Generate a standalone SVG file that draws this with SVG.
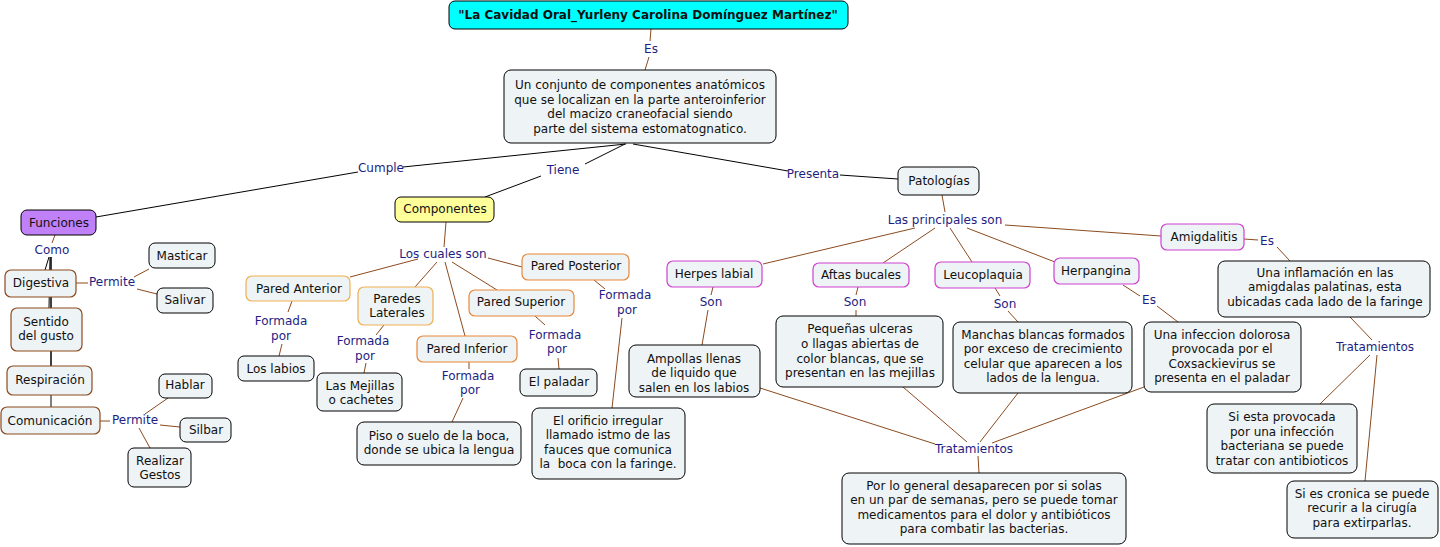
<svg xmlns="http://www.w3.org/2000/svg" width="1440" height="547" viewBox="0 0 1440 547">
<style>
.n{fill:#EEF3F5;stroke:#000;stroke-width:1}
.o{fill:#EEF3F5;stroke:#F0B050;stroke-width:1.2}
.o2{fill:#EEF3F5;stroke:#E8883A;stroke-width:1.2}
.m{fill:#EEF3F5;stroke:#D040D0;stroke-width:1.2}
.b{fill:#EEF3F5;stroke:#8B4A1E;stroke-width:1.2}
text{font-family:"DejaVu Sans",Verdana,sans-serif;font-size:12px;fill:#111;text-anchor:middle;dominant-baseline:central}
.l{fill:#1E1E82}
.k{stroke:#000;stroke-width:1;fill:none}
.r{stroke:#8B4A1E;stroke-width:1;fill:none}
</style>
<rect width="1440" height="547" fill="#fff"/>
<g id="connectors">
<path class="r" d="M651 29L650 41M649 57L645 70"/>
<path class="k" d="M626 144L403 167M358 172L96 217"/>
<path class="k" d="M625 144L585 164M541 176L485 197"/>
<path class="k" d="M633 144L788 171M840 175L898 179"/>
<path class="r" d="M942 195L945 212"/>
<path class="r" d="M915 228L763 264M935 228L883 263M950 228L972 262M967 228L1055 262M1005 225L1161 236"/>
<path class="r" d="M713 287L711 295M708 310L702 345"/>
<path class="r" d="M858 287L856 295M856 310L856 316"/>
<path class="r" d="M995 288L1000 296M1008 311L1018 322"/>
<path class="r" d="M1123 285L1140 296M1157 306L1178 322"/>
<path class="r" d="M1244 239L1258 240M1277 247L1290 261"/>
<path class="r" d="M1350 317L1372 340M1370 355L1320 404M1377 355L1365 481"/>
<path class="r" d="M760 388L935 444M903 387L967 442M1018 393L980 442M1144 387L992 443M978 456L979 473"/>
<path class="r" d="M446 222L444 247"/>
<path class="r" d="M418 259L350 277M437 262L415 287M445 262L465 336M452 262L497 290M488 258L522 267"/>
<path class="r" d="M292 301L288 312M282 344L279 356"/>
<path class="r" d="M384 325L376 335M366 363L364 373"/>
<path class="r" d="M469 362L469 369M463 398L452 422"/>
<path class="r" d="M535 316L545 325M558 358L559 369"/>
<path class="r" d="M594 280L605 289M622 318L612 408"/>
<path class="r" d="M55 235L52 243"/>
<path class="k" d="M49 257L45 270M50 257L49 308M51 257L51 366M51 257L51 407"/>
<path class="r" d="M76 283L88 283M134 277L149 269M137 289L157 294"/>
<path class="r" d="M100 421L110 421M145 414L168 398M160 425L180 427M139 428L150 448"/>
</g>
<g id="labels">
<text class="l" x="651" y="49">Es</text>
<text class="l" x="381" y="168">Cumple</text>
<text class="l" x="563" y="170">Tiene</text>
<text class="l" x="813" y="174">Presenta</text>
<text class="l" x="945" y="220">Las principales son</text>
<text class="l" x="711" y="302">Son</text>
<text class="l" x="855" y="302">Son</text>
<text class="l" x="1005" y="304">Son</text>
<text class="l" x="1149" y="300">Es</text>
<text class="l" x="1267" y="241">Es</text>
<text class="l" x="1375" y="347">Tratamientos</text>
<text class="l" x="974" y="449">Tratamientos</text>
<text class="l" x="443" y="254">Los cuales son</text>
<text class="l" x="281" y="321">Formada</text><text class="l" x="281" y="336">por</text>
<text class="l" x="363" y="341">Formada</text><text class="l" x="365" y="356">por</text>
<text class="l" x="468" y="376">Formada</text><text class="l" x="470" y="390">por</text>
<text class="l" x="555" y="335">Formada</text><text class="l" x="557" y="349">por</text>
<text class="l" x="625" y="295">Formada</text><text class="l" x="627" y="310">por</text>
<text class="l" x="52" y="250">Como</text>
<text class="l" x="112" y="282">Permite</text>
<text class="l" x="135" y="420">Permite</text>
</g>
<g id="title"><rect x="449" y="1" width="399" height="28" rx="6" fill="#00FFFF" stroke="#000"/><text x="648" y="15" font-weight="bold">"La Cavidad Oral_Yurleny Carolina Domínguez Martínez"</text></g>
<g id="main"><rect class="n" x="504" y="70" width="272" height="73" rx="7"/><text x="640" y="85">Un conjunto de componentes anatómicos</text><text x="640" y="100">que se localizan en la parte anteroinferior</text><text x="640" y="114">del macizo craneofacial siendo</text><text x="640" y="129">parte del sistema estomatognatico.</text></g>
<g id="funciones"><rect x="21" y="210" width="75" height="25" rx="6" fill="#BF80F8" stroke="#000"/><text x="59" y="223">Funciones</text></g>
<g id="componentes"><rect x="395" y="197" width="99" height="25" rx="6" fill="#FFFF99" stroke="#000"/><text x="445" y="209">Componentes</text></g>
<g id="patologias"><rect class="n" x="898" y="167" width="81" height="28" rx="6"/><text x="939" y="181">Patologías</text></g>
<g id="herpes"><rect class="m" x="667" y="261" width="95" height="26" rx="6"/><text x="714" y="274">Herpes labial</text></g>
<g id="aftas"><rect class="m" x="813" y="263" width="96" height="24" rx="6"/><text x="861" y="275">Aftas bucales</text></g>
<g id="leuco"><rect class="m" x="935" y="262" width="95" height="26" rx="6"/><text x="983" y="275">Leucoplaquia</text></g>
<g id="herpangina"><rect class="m" x="1054" y="258" width="85" height="26" rx="6"/><text x="1096" y="271">Herpangina</text></g>
<g id="amigdalitis"><rect class="m" x="1161" y="224" width="83" height="26" rx="6"/><text x="1204" y="237">Amigdalitis</text></g>
<g id="ampollas"><rect class="n" x="629" y="345" width="131" height="52" rx="7"/><text x="694" y="359">Ampollas llenas</text><text x="694" y="373">de liquido que</text><text x="694" y="388">salen en los labios</text></g>
<g id="pequenas"><rect class="n" x="776" y="316" width="167" height="71" rx="7"/><text x="860" y="329">Pequeñas ulceras</text><text x="860" y="344">o llagas abiertas de</text><text x="860" y="359">color blancas, que se</text><text x="860" y="373">presentan en las mejillas</text></g>
<g id="manchas"><rect class="n" x="953" y="322" width="179" height="71" rx="7"/><text x="1043" y="335">Manchas blancas formados</text><text x="1043" y="349">por exceso de crecimiento</text><text x="1043" y="364">celular que aparecen a los</text><text x="1043" y="378">lados de la lengua.</text></g>
<g id="infeccion"><rect class="n" x="1144" y="322" width="157" height="70" rx="7"/><text x="1222" y="335">Una infeccion dolorosa</text><text x="1222" y="349">provocada por el</text><text x="1222" y="364">Coxsackievirus se</text><text x="1222" y="378">presenta en el paladar</text></g>
<g id="inflamacion"><rect class="n" x="1218" y="261" width="212" height="56" rx="7"/><text x="1325" y="273">Una inflamación en las</text><text x="1325" y="287">amigdalas palatinas, esta</text><text x="1325" y="302">ubicadas cada lado de la faringe</text></g>
<g id="siesta"><rect class="n" x="1207" y="404" width="150" height="69" rx="7"/><text x="1282" y="417">Si esta provocada</text><text x="1282" y="432">por una infección</text><text x="1282" y="446">bacteriana se puede</text><text x="1282" y="461">tratar con antibioticos</text></g>
<g id="cronica"><rect class="n" x="1287" y="481" width="151" height="57" rx="7"/><text x="1362" y="494">Si es cronica se puede</text><text x="1362" y="508">recurir a la cirugía</text><text x="1362" y="523">para extirparlas.</text></g>
<g id="porlogeneral"><rect class="n" x="842" y="473" width="284" height="71" rx="7"/><text x="984" y="486">Por lo general desaparecen por si solas</text><text x="984" y="500">en un par de semanas, pero se puede tomar</text><text x="984" y="515">medicamentos para el dolor y antibióticos</text><text x="984" y="529">para combatir las bacterias.</text></g>
<g id="paredanterior"><rect class="o" x="246" y="276" width="104" height="25" rx="6"/><text x="299" y="289">Pared Anterior</text></g>
<g id="paredeslaterales"><rect class="o" x="358" y="287" width="75" height="38" rx="6"/><text x="397" y="299">Paredes</text><text x="397" y="313">Laterales</text></g>
<g id="paredsuperior"><rect class="o2" x="469" y="290" width="105" height="26" rx="6"/><text x="521" y="302">Pared Superior</text></g>
<g id="paredinferior"><rect class="o2" x="417" y="336" width="100" height="26" rx="6"/><text x="467" y="349">Pared Inferior</text></g>
<g id="paredposterior"><rect class="o2" x="522" y="254" width="107" height="26" rx="6"/><text x="576" y="266">Pared Posterior</text></g>
<g id="labios"><rect class="n" x="238" y="356" width="76" height="25" rx="6"/><text x="276" y="369">Los labios</text></g>
<g id="mejillas"><rect class="n" x="317" y="373" width="85" height="38" rx="6"/><text x="360" y="386">Las Mejillas</text><text x="361" y="400">o cachetes</text></g>
<g id="piso"><rect class="n" x="357" y="422" width="164" height="43" rx="7"/><text x="439" y="436">Piso o suelo de la boca,</text><text x="439" y="450">donde se ubica la lengua</text></g>
<g id="paladar"><rect class="n" x="520" y="369" width="77" height="27" rx="6"/><text x="559" y="382">El paladar</text></g>
<g id="orificio"><rect class="n" x="532" y="408" width="153" height="71" rx="7"/><text x="608" y="421">El orificio irregular</text><text x="608" y="435">llamado istmo de las</text><text x="608" y="450">fauces que comunica</text><text x="608" y="464" xml:space="preserve">la  boca con la faringe.</text></g>
<g id="digestiva"><rect class="b" x="5" y="270" width="71" height="27" rx="6"/><text x="41" y="283">Digestiva</text></g>
<g id="sentido"><rect class="b" x="11" y="308" width="71" height="43" rx="6"/><text x="46" y="322">Sentido</text><text x="46" y="336">del gusto</text></g>
<g id="respiracion"><rect class="b" x="7" y="366" width="85" height="29" rx="6"/><text x="50" y="380">Respiración</text></g>
<g id="comunicacion"><rect class="b" x="1" y="407" width="99" height="27" rx="6"/><text x="50" y="421">Comunicación</text></g>
<g id="masticar"><rect class="n" x="149" y="243" width="66" height="25" rx="6"/><text x="182" y="256">Masticar</text></g>
<g id="salivar"><rect class="n" x="157" y="288" width="56" height="25" rx="6"/><text x="185" y="300">Salivar</text></g>
<g id="hablar"><rect class="n" x="159" y="374" width="53" height="24" rx="6"/><text x="185" y="385">Hablar</text></g>
<g id="silbar"><rect class="n" x="180" y="418" width="51" height="24" rx="6"/><text x="206" y="430">Silbar</text></g>
<g id="gestos"><rect class="n" x="128" y="448" width="63" height="39" rx="6"/><text x="160" y="461">Realizar</text><text x="160" y="475">Gestos</text></g>
</svg>
